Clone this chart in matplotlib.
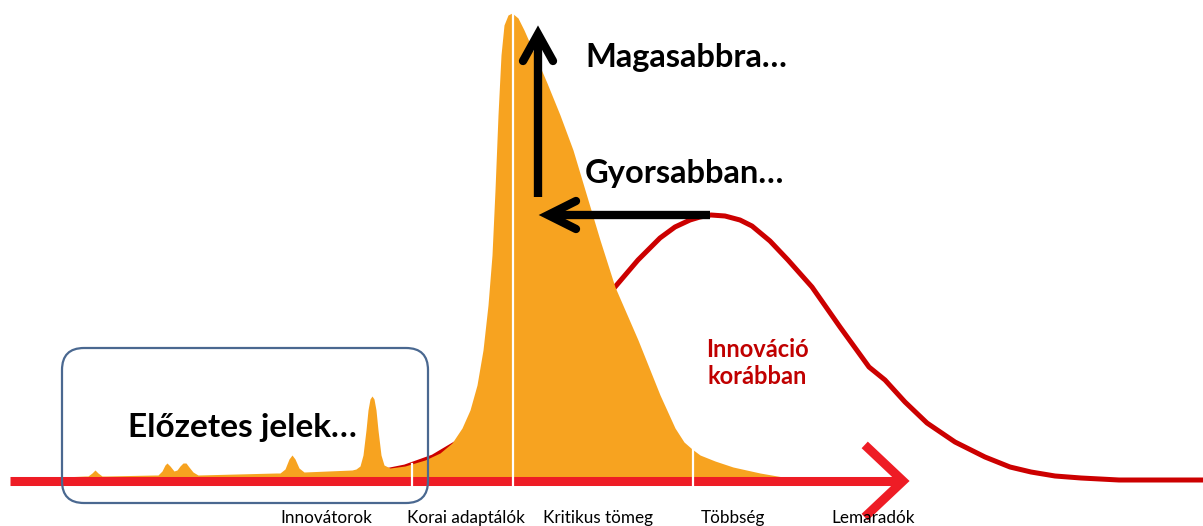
import numpy as np
import matplotlib
matplotlib.use('Agg')
import matplotlib.pyplot as plt
from matplotlib.patches import FancyBboxPatch

plt.rcParams['font.family'] = ['Lato', 'DejaVu Sans']

# diffusion curves (x, y in image pixels)
early_x = [63, 85, 88, 92, 95, 98, 102, 106,
           155, 158, 162, 165, 167, 170, 174, 177, 180, 183, 186, 189, 193, 198,
           276, 280, 285, 289, 292, 295, 299, 304,
           352, 356, 360, 363, 366, 368, 370, 372, 374, 376, 378, 381, 384, 390,
           405, 425, 440, 452, 462, 470, 477, 483, 488, 492, 495, 498, 501, 504, 508,
           512, 518, 524, 535, 547, 560, 573, 585, 600, 615, 638, 660, 675, 684, 692,
           700, 715, 733, 760, 783, 800]
early_y = [477, 476, 476, 473, 470, 473, 476, 476,
           475, 475, 471, 465, 463, 466, 471, 470, 466, 463, 463, 467, 472, 475,
           473, 473, 469, 459, 455, 459, 468, 472,
           470, 469, 466, 455, 430, 410, 399, 396, 399, 410, 430, 455, 465, 468,
           466, 460, 453, 443, 428, 410, 385, 350, 305, 255, 190, 115, 55, 25, 15,
           13, 18, 30, 55, 83, 115, 150, 190, 240, 287, 340, 395, 428, 442, 449,
           455, 461, 467, 473, 477, 479]

late_x = [380, 405, 433, 470, 513, 560, 615, 638, 660, 675, 690, 700, 711, 725,
          740, 752, 770, 788, 812, 840, 869, 885, 905, 927, 955, 985, 1010, 1031,
          1055, 1081, 1119, 1203]
late_y = [472, 467, 457, 435, 405, 350, 287, 260, 238, 227, 220, 217, 215, 216,
          220, 226, 241, 260, 287, 327, 367, 380, 402, 423, 442, 457, 467, 472,
          476, 478, 480, 480]

stage_labels = ['Innovátorok', 'Korai adaptálók', 'Kritikus tömeg', 'Többség', 'Lemaradók']
stage_x = [326, 466, 598, 733, 873]
stage_bounds = [412, 513, 693]

fig = plt.figure(figsize=(12.03, 5.26), dpi=100)
ax = fig.add_axes([0, 0, 1, 1])
ax.set_xlim(0, 1203)
ax.set_ylim(526, 0)
ax.axis('off')

# later innovation curve (red) behind the early one
ax.plot(late_x, late_y, color='#cc0000', lw=3.6, solid_capstyle='round',
        solid_joinstyle='round', zorder=1)
ax.fill_between(early_x, early_y, 481, color='#F7A320', lw=0, zorder=2)

# time axis with arrow head
ax.plot([10, 900], [481, 481], color='#ee1c25', lw=6.5, solid_capstyle='butt', zorder=3)
ax.plot([868, 903, 868], [448, 481, 514], color='#ee1c25', lw=6.5,
        solid_joinstyle='miter', zorder=3)

for bx in stage_bounds:
    top = np.interp(bx, early_x, early_y)
    ax.plot([bx, bx], [top, 487], color='white', lw=1.6, zorder=4)

box = FancyBboxPatch((62, 348), 366, 155, boxstyle='round,pad=0,rounding_size=22',
                     fc='none', ec='#4a6890', lw=1.6, zorder=5)
ax.add_patch(box)

# black arrows
ax.plot([538, 538], [197, 36], color='black', lw=6, solid_capstyle='butt', zorder=6)
ax.plot([523, 538, 553], [61, 34, 61], color='black', lw=6,
        solid_capstyle='round', solid_joinstyle='miter', zorder=6)
ax.plot([710, 550], [215, 215], color='black', lw=6, solid_capstyle='butt', zorder=6)
ax.plot([576, 548, 576], [201, 215, 229], color='black', lw=6,
        solid_capstyle='round', solid_joinstyle='miter', zorder=6)

ax.text(242, 428, 'Előzetes jelek…', fontsize=24, fontweight='bold', ha='center', va='center', zorder=7)
ax.text(585, 57, 'Magasabbra…', fontsize=23.5, fontweight='bold', ha='left', va='center', zorder=7)
ax.text(585, 174, 'Gyorsabban…', fontsize=23.5, fontweight='bold', ha='left', va='center', zorder=7)
ax.text(757, 363, 'Innováció\nkorábban', fontsize=17, fontweight='bold', color='#c00000',
        ha='center', va='center', linespacing=1.2, zorder=7)

for lab, lx in zip(stage_labels, stage_x):
    ax.text(lx, 518, lab, fontsize=12.3, ha='center', va='center', zorder=7)

fig.savefig('out.png', dpi=100)
